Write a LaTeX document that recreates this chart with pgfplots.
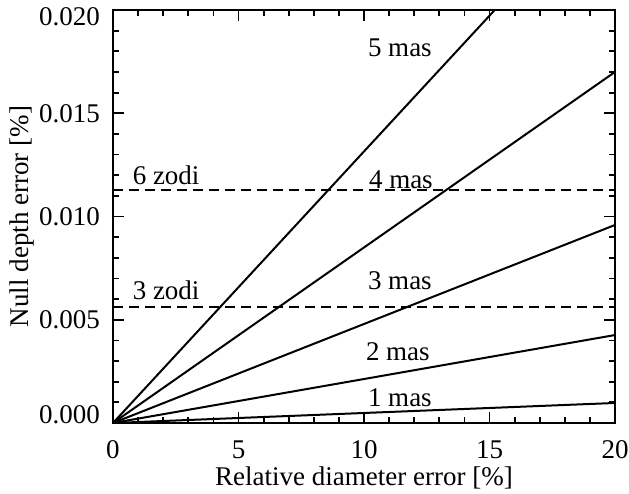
\documentclass[border=0pt]{standalone}
\usepackage{pgfplots}
\pgfplotsset{compat=1.18}
\usepackage{fontspec}
\setmainfont{Liberation Serif}
\newcommand{\bigfont}{\fontsize{27}{31}\selectfont}
\begin{document}
\begin{tikzpicture}
% fixed page frame around the axis box
\path[use as bounding box] (-113pt,-70pt) rectangle (516pt,423pt);
\begin{axis}[
  at={(0pt,0pt)}, anchor=south west,
  scale only axis,
  width=502pt, height=413pt,
  xmin=0, xmax=20, ymin=0, ymax=0.020,
  xtick={0,5,10,15,20},
  ytick={0,0.005,0.010,0.015,0.020},
  yticklabels={,0.005,0.010,0.015,},
  minor x tick num=4,
  minor y tick num=4,
  tick align=inside,
  major tick length=11pt,
  minor tick length=6pt,
  axis line style={line width=2.2pt},
  every tick/.style={black, line width=1.8pt},
  scaled y ticks=false,
  /pgf/number format/assume math mode=true,
  tick label style={font=\bigfont},
  xticklabel style={anchor=base, inner sep=0pt, yshift=-35pt},
  yticklabel style={anchor=east, inner sep=0pt, xshift=-13pt},
  xlabel={Relative diameter error [\%]},
  ylabel={Null depth error [\%]},
  xlabel style={font=\bigfont, at={(axis description cs:0.5,-0.1525)}, anchor=base, inner sep=0pt},
  ylabel style={font=\bigfont, at={(axis description cs:-0.1693,0.5)}, anchor=base, inner sep=0pt},
  clip mode=individual,
]
% contrast error for each stellar angular diameter
\addplot[black, line width=2pt] coordinates {(0,0) (20,0.00097)};
\addplot[black, line width=2pt] coordinates {(0,0) (20,0.00426)};
\addplot[black, line width=2pt] coordinates {(0,0) (20,0.00959)};
\addplot[black, line width=2pt] coordinates {(0,0) (20,0.0170)};
\addplot[black, line width=2pt] coordinates {(0,0) (20,0.0263)};
% exozodi levels
\addplot[black, line width=2pt, dash pattern=on 10pt off 6pt] coordinates {(0,0.00563) (20,0.00563)};
\addplot[black, line width=2pt, dash pattern=on 10pt off 6pt] coordinates {(0,0.01126) (20,0.01126)};
\begin{scope}[font=\bigfont]
\node at (axis cs:11.43,0.00121) {1 mas};
\node at (axis cs:11.35,0.00344) {2 mas};
\node at (axis cs:11.43,0.00688) {3 mas};
\node at (axis cs:11.47,0.01179) {4 mas};
\node at (axis cs:11.43,0.01816) {5 mas};
\node[anchor=west, inner sep=0pt] at (axis cs:0.78,0.00644) {3 zodi};
\node[anchor=west, inner sep=0pt] at (axis cs:0.78,0.0120) {6 zodi};
% end labels of the y axis sit inside the frame height
\node[anchor=east, inner sep=0pt, xshift=-13pt, yshift=8pt] at (axis description cs:0,0) {0.000};
\node[anchor=east, inner sep=0pt, xshift=-13pt, yshift=-7pt] at (axis description cs:0,1) {0.020};
\end{scope}
\end{axis}
\end{tikzpicture}
\end{document}
